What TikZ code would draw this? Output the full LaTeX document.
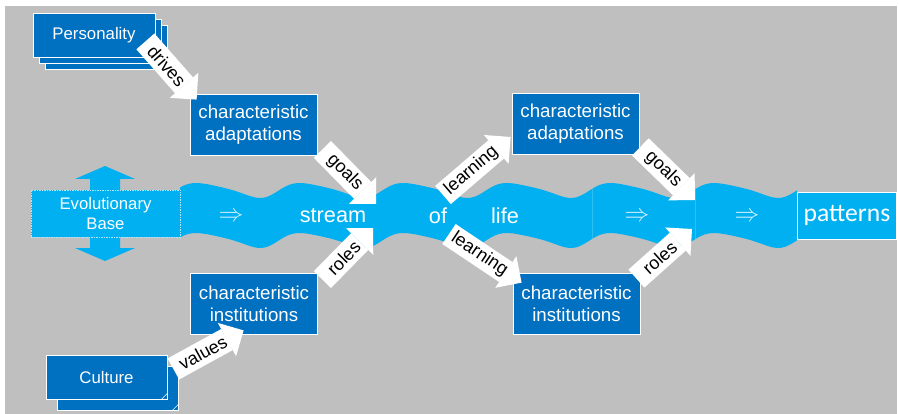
\documentclass[tikz,border=0pt]{standalone}
\usepackage{fontspec}
\setmainfont{Liberation Sans}
\newfontfamily\calfont{Carlito}
\usetikzlibrary{arrows.meta}
\pgfdeclarelayer{bg}
\pgfsetlayers{bg,main}
\definecolor{boxblue}{HTML}{0070C0}
\definecolor{riverblue}{HTML}{00B0F0}
\definecolor{canvas}{HTML}{BFBFBF}
\tikzset{
    box/.style={rectangle, draw=white, line width=.8pt, fill=boxblue, text=white, align=center, inner sep=0pt,
        minimum width=127pt, minimum height=61pt, font=\fontsize{18.7}{22}\selectfont},
    stack/.style={box, minimum width=122pt, minimum height=44pt, font=\fontsize{16.8}{20}\selectfont},
    blockarrow/.style={draw=white, line width=24pt, -{Triangle[length=19pt, width=38pt, line width=0pt]}},
    lbl/.style={sloped, pos=.42, text=black, inner sep=0pt, font=\fontsize{18}{20}\selectfont},
    flow/.style={text=white, inner sep=0pt, font=\fontsize{21.7}{24}\selectfont},
    thru/.style={text=white!85!riverblue, inner sep=0pt, font=\fontsize{25}{26}\selectfont}
}

\begin{document}
\begin{tikzpicture}[x=1pt, y=-1pt,
        declare function={wv(\t)=190.5-7.5*cos(3.475*(\t-196)-25*(1-cos(3.475*(\t-196))));}]
        \useasboundingbox (0,0) rectangle (899,414);
        \begin{pgfonlayer}{bg}
                \fill[canvas] (5,6) rectangle (897,414);
                % up and down arrow behind the evolutionary base
                \fill[riverblue] (105,166) -- (135,179) -- (120,179) -- (120,248) -- (135,248) -- (105,261)
                        -- (75,248) -- (90,248) -- (90,179) -- (75,179) -- cycle;
                % the stream
                \fill[riverblue] plot[domain=180:797, samples=160] (\x, {wv(\x)})
                        -- plot[domain=797:180, samples=160] (\x, {wv(\x)+50}) -- cycle;
                \draw[white!18!riverblue, line width=.5pt] (592,188.9) -- (592,238.9);
                \draw[white!18!riverblue, line width=.5pt] (695,189.3) -- (695,239.3);
        \end{pgfonlayer}

        \node (evo) [rectangle, draw=white!70!riverblue, dash pattern=on 1.5pt off 1pt, line width=.5pt, fill=riverblue,
                text=white, align=center, inner sep=0pt, minimum width=149pt, minimum height=47pt,
                font=\fontsize{16.7}{20}\selectfont] at (105.5,213.5) {Evolutionary\\Base};
        \node (pers3) [stack] at (106,47) {};
        \node (pers2) [stack] at (100,41) {};
        \node (pers) [stack] at (94,35) {Personality};
        \node (cult2) [stack, minimum width=121pt] at (117.5,388) {};
        \node (cult) [stack, minimum width=121pt] at (106.5,377) {Culture};
        \draw[white, line width=.6pt] ([shift={(-6,0)}]cult2.south east) -- ([shift={(0,-6)}]cult2.south east);
        \draw[white, line width=.6pt] ([shift={(-6,0)}]cult.south east) -- ([shift={(0,-6)}]cult.south east);
        \node (ca1) [box] at (253.5,124.5) {characteristic\\adaptations};
        \node (ci1) [box] at (254,303.5) {characteristic\\institutions};
        \node (ca2) [box] at (575.5,123.5) {characteristic\\adaptations};
        \node (ci2) [box] at (576.5,303.5) {characteristic\\institutions};
        \node (pat) [rectangle, draw=white, line width=.8pt, fill=riverblue, text=white, inner sep=0pt,
                minimum width=99pt, minimum height=47pt, font=\calfont\fontsize{25.6}{28}\selectfont] at (847,215.5) {patterns};

        \node (arr1) [thru] at (231,217) {$\Rightarrow$};
        \node (strm) [flow] at (333,216) {stream};
        \node (of) [flow] at (438,216) {of};
        \node (life) [flow] at (505,216) {life};
        \node (arr2) [thru] at (637,217) {$\Rightarrow$};
        \node (arr3) [thru] at (747,217) {$\Rightarrow$};

        \coordinate (meet1a) at (376,204);
        \coordinate (meet1b) at (373,228);
        \coordinate (fork1a) at (443,195);
        \coordinate (fork1b) at (449,234);
        \coordinate (meet2a) at (695,200);
        \coordinate (meet2b) at (692,229);

        \draw ([shift={(-10,-16)}]pers.south east) edge [blockarrow] node [lbl] {drives} ([shift={(7,6)}]ca1.north west);
        \draw ([shift={(5,-6)}]ca1.south east) edge [blockarrow] node [lbl] {goals} (meet1a);
        \draw ([shift={(4.5,7)}]ci1.north east) edge [blockarrow] node [lbl] {roles} (meet1b);
        \draw ([shift={(6,-8)}]cult.east) edge [blockarrow] node [lbl] {values} ([shift={(53.5,-4)}]ci1.south west);
        \draw (fork1a) edge [blockarrow] node [lbl] {learning} ([shift={(-1,13.5)}]ca2.west);
        \draw (fork1b) edge [blockarrow] node [lbl] {learning} ([shift={(9,10)}]ci2.north west);
        \draw ([shift={(1,-7.5)}]ca2.south east) edge [blockarrow] node [lbl] {goals} (meet2a);
        \draw ([shift={(-4,6)}]ci2.north east) edge [blockarrow] node [lbl] {roles} (meet2b);
\end{tikzpicture}
\end{document}
